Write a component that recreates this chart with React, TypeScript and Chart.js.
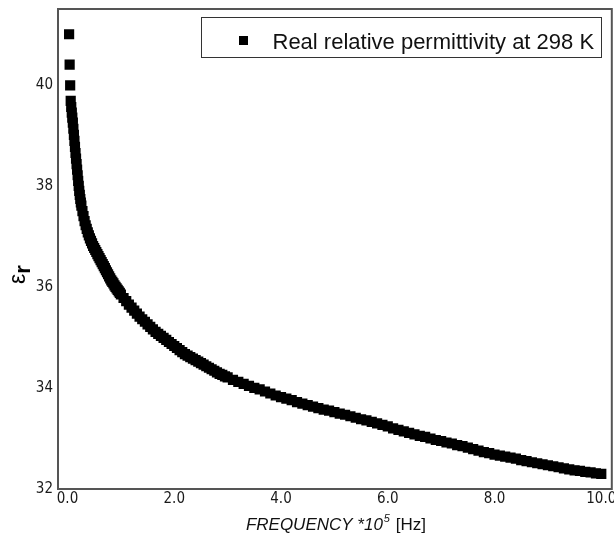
import React, { useEffect, useRef } from "react";
import { Chart, registerables } from "chart.js";

Chart.register(...registerables);

// ---- data ----
const seriesLabel = "Real relative permittivity at 298 K";

const frequency = [
  0.03, 0.04, 0.05, 0.06, 0.07, 0.08, 0.09, 0.10, 0.11, 0.12, 0.13, 0.14, 0.15,
  0.16, 0.17, 0.18, 0.19, 0.20, 0.21, 0.22, 0.23, 0.24, 0.25, 0.26,
  0.28, 0.30, 0.32, 0.34, 0.36, 0.38, 0.40, 0.42, 0.44, 0.46, 0.48,
  0.50, 0.52, 0.54, 0.56, 0.58, 0.60, 0.62, 0.64, 0.66, 0.68,
  0.70, 0.72, 0.74, 0.76, 0.78, 0.80, 0.82, 0.84, 0.86, 0.88,
  0.90, 0.92, 0.94, 0.96, 0.98,
  1.00, 1.05, 1.10, 1.15, 1.20, 1.25, 1.30, 1.35, 1.40, 1.45,
  1.50, 1.55, 1.60, 1.65, 1.70, 1.75, 1.80, 1.85, 1.90, 1.95,
  2.00, 2.05, 2.10, 2.15, 2.20, 2.25, 2.30, 2.35, 2.40, 2.45,
  2.50, 2.55, 2.60, 2.65, 2.70, 2.75, 2.80, 2.85, 2.90, 2.95,
  3.0, 3.1, 3.2, 3.3, 3.4, 3.5, 3.6, 3.7, 3.8, 3.9,
  4.0, 4.1, 4.2, 4.3, 4.4, 4.5, 4.6, 4.7, 4.8, 4.9,
  5.0, 5.1, 5.2, 5.3, 5.4, 5.5, 5.6, 5.7, 5.8, 5.9,
  6.0, 6.1, 6.2, 6.3, 6.4, 6.5, 6.6, 6.7, 6.8, 6.9,
  7.0, 7.1, 7.2, 7.3, 7.4, 7.5, 7.6, 7.7, 7.8, 7.9,
  8.0, 8.1, 8.2, 8.3, 8.4, 8.5, 8.6, 8.7, 8.8, 8.9,
  9.0, 9.1, 9.2, 9.3, 9.4, 9.5, 9.6, 9.7, 9.8, 9.9, 10.0,
];

const permittivity = [
  41.00, 40.40, 39.99, 39.68, 39.56, 39.45, 39.35, 39.25, 39.13, 39.01, 38.89, 38.77, 38.65,
  38.54, 38.43, 38.32, 38.21, 38.10, 38.00, 37.90, 37.82, 37.74, 37.67, 37.61,
  37.50, 37.40, 37.30, 37.22, 37.15, 37.08, 37.02, 36.96, 36.91, 36.86, 36.81,
  36.77, 36.73, 36.69, 36.65, 36.61, 36.57, 36.53, 36.49, 36.45, 36.41,
  36.37, 36.33, 36.29, 36.25, 36.21, 36.17, 36.13, 36.10, 36.07, 36.03,
  36.00, 35.97, 35.94, 35.91, 35.88,
  35.85, 35.78, 35.72, 35.65, 35.59, 35.53, 35.47, 35.41, 35.36, 35.31,
  35.26, 35.21, 35.16, 35.11, 35.07, 35.03, 34.99, 34.95, 34.91, 34.87,
  34.83, 34.79, 34.75, 34.71, 34.67, 34.64, 34.61, 34.58, 34.55, 34.52,
  34.49, 34.46, 34.43, 34.40, 34.37, 34.34, 34.31, 34.28, 34.26, 34.23,
  34.21, 34.16, 34.12, 34.08, 34.04, 34.00, 33.97, 33.93, 33.89, 33.85,
  33.82, 33.79, 33.76, 33.72, 33.69, 33.66, 33.63, 33.60, 33.57, 33.55,
  33.52, 33.49, 33.47, 33.44, 33.41, 33.38, 33.36, 33.33, 33.30, 33.27,
  33.24, 33.20, 33.17, 33.14, 33.11, 33.08, 33.05, 33.03, 33.00, 32.97,
  32.95, 32.92, 32.90, 32.87, 32.85, 32.82, 32.79, 32.76, 32.73, 32.71,
  32.68, 32.66, 32.64, 32.62, 32.60, 32.57, 32.55, 32.53, 32.51, 32.49,
  32.47, 32.45, 32.43, 32.41, 32.39, 32.37, 32.36, 32.34, 32.33, 32.31, 32.30,
];

const xTickValues = [0, 2, 4, 6, 8, 10];
const yTickValues = [32, 34, 36, 38, 40];

const xTitleMain = "FREQUENCY *10";
const xTitleExp = "5";
const xTitleUnit = "[Hz]";
const yTitleMain = "ε";
const yTitleSub = "r";

const TICK_FONT = "'Liberation Sans Narrow', 'DejaVu Sans Condensed', 'Liberation Sans', Arial, sans-serif";
const SANS = "'Liberation Sans', Arial, sans-serif";

const decorPlugin = {
  id: "decor",
  afterDatasetsDraw(chart: any) {
    const { ctx, chartArea: a } = chart;
    ctx.save();
    // plot frame
    ctx.strokeStyle = "#555555";
    ctx.lineWidth = 2;
    ctx.strokeRect(a.left, a.top, a.right - a.left, a.bottom - a.top);

    // legend box
    const lw = 400;
    const lh = 40;
    const lx = Math.round(a.right - 11 - lw) + 0.5;
    const ly = Math.round(a.top + 8) + 0.5;
    ctx.fillStyle = "#ffffff";
    ctx.fillRect(lx, ly, lw, lh);
    ctx.strokeStyle = "#333333";
    ctx.lineWidth = 1;
    ctx.strokeRect(lx, ly, lw, lh);
    ctx.fillStyle = "#000000";
    ctx.fillRect(Math.round(lx + 37), Math.round(ly + 18), 9, 9);
    ctx.font = `22px ${SANS}`;
    ctx.textBaseline = "alphabetic";
    ctx.textAlign = "left";
    ctx.fillStyle = "#111111";
    ctx.fillText(seriesLabel, lx + 71, ly + 31);

    // x title
    const midX = (a.left + a.right) / 2 + 1;
    const baseY = a.bottom + 41;
    const fMain = `italic 17px ${SANS}`;
    const fExp = `italic 11px ${SANS}`;
    const fUnit = `17px ${SANS}`;
    ctx.font = fMain;
    const w1 = ctx.measureText(xTitleMain).width;
    ctx.font = fExp;
    const w2 = ctx.measureText(xTitleExp).width;
    ctx.font = fUnit;
    const w3 = ctx.measureText(" " + xTitleUnit).width;
    let x = midX - (w1 + w2 + 2 + w3) / 2;
    ctx.fillStyle = "#111111";
    ctx.font = fMain;
    ctx.fillText(xTitleMain, x, baseY);
    x += w1 + 1;
    ctx.font = fExp;
    ctx.fillText(xTitleExp, x, baseY - 8);
    x += w2 + 1;
    ctx.font = fUnit;
    ctx.fillText(" " + xTitleUnit, x, baseY);

    // y title (rotated)
    ctx.save();
    ctx.translate(25, 284);
    ctx.rotate(-Math.PI / 2);
    ctx.font = `23px ${SANS}`;
    ctx.fillStyle = "#000000";
    ctx.fillText(yTitleMain, 0, 0);
    const we = ctx.measureText(yTitleMain).width;
    ctx.font = `bold 22px ${SANS}`;
    ctx.fillText(yTitleSub, we, 5);
    ctx.restore();

    ctx.restore();
  },
};

export default function App() {
  const canvasRef = useRef<HTMLCanvasElement | null>(null);

  useEffect(() => {
    const canvas = canvasRef.current;
    if (!canvas) return;
    const points = frequency.map((f, i) => ({ x: f, y: permittivity[i] }));
    const chart = new Chart(canvas, {
      type: "scatter",
      data: {
        datasets: [
          {
            label: seriesLabel,
            data: points,
            pointStyle: "rect",
            pointRadius: 7.2,
            pointHoverRadius: 7.2,
            backgroundColor: "#000000",
            borderColor: "#000000",
            borderWidth: 0,
            showLine: false,
          },
        ],
      },
      options: {
        animation: false,
        responsive: false,
        devicePixelRatio: 1,
        layout: { padding: { top: 9, right: 2, left: 0, bottom: 0 } },
        plugins: {
          legend: { display: false },
          tooltip: { enabled: false },
          title: { display: false },
        },
        scales: {
          x: {
            type: "linear",
            min: -0.178,
            max: 10.197,
            grid: { display: false, drawTicks: false },
            border: { display: false },
            afterBuildTicks: (s: any) => {
              s.ticks = xTickValues.map((v) => ({ value: v }));
            },
            afterFit: (s: any) => {
              s.height = 59;
            },
            ticks: {
              padding: 1,
              color: "#1a1a1a",
              font: { family: TICK_FONT, size: 15 },
              maxRotation: 0,
              autoSkip: false,
              callback: (v: any) => Number(v).toFixed(1),
            },
          },
          y: {
            type: "linear",
            min: 32,
            max: 41.5,
            grid: { display: false, drawTicks: false },
            border: { display: false },
            afterBuildTicks: (s: any) => {
              s.ticks = yTickValues.map((v) => ({ value: v }));
            },
            afterFit: (s: any) => {
              s.width = 58;
              s.paddingTop = 0;
              s.paddingBottom = 0;
            },
            ticks: {
              padding: 5,
              color: "#1a1a1a",
              font: { family: TICK_FONT, size: 15 },
              autoSkip: false,
              callback: (v: any) => String(Math.round(Number(v))),
            },
          },
        },
      },
      plugins: [decorPlugin],
    });
    return () => chart.destroy();
  }, []);

  return (
    <div style={{ position: "absolute", left: 0, top: 0, width: 614, height: 548, overflow: "hidden", background: "#fff" }}>
      <canvas ref={canvasRef} width={619} height={548} style={{ display: "block" }} />
    </div>
  );
}
